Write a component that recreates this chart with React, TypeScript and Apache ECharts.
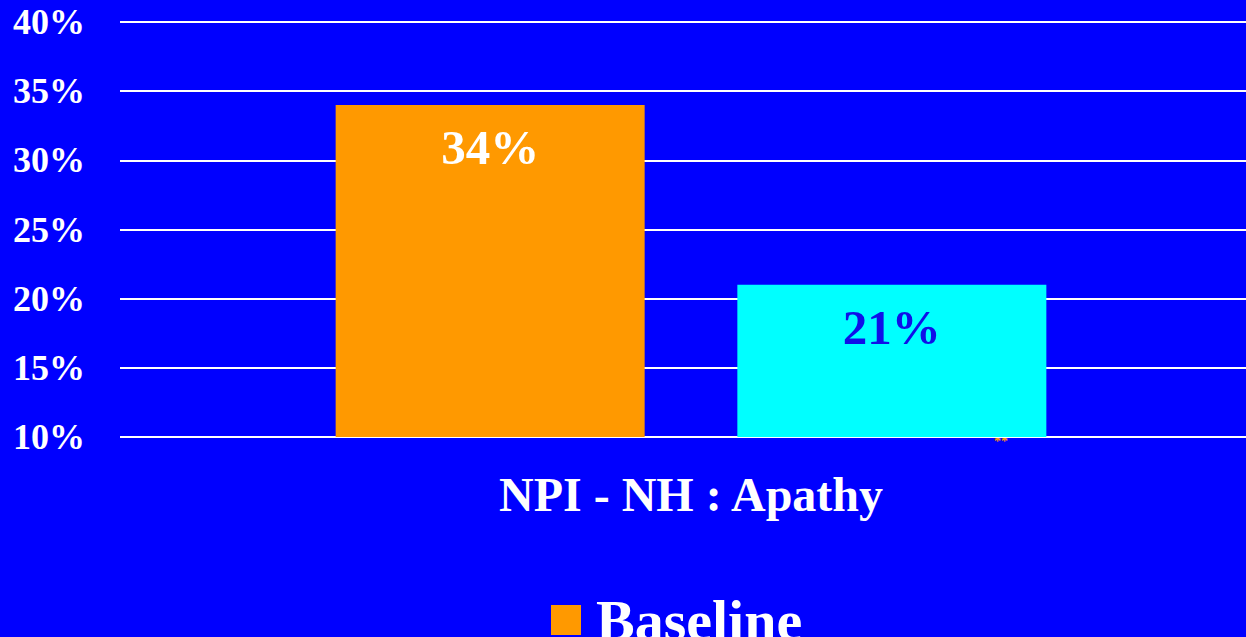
import React, { useEffect, useRef } from "react";
import * as echarts from "echarts";

const categories = ["NPI - NH : Apathy"];
const baselineValues = [34];
const followUpValues = [21];
const yTicks = [10, 15, 20, 25, 30, 35, 40];
const seriesNames = ["Baseline", "Follow-up"];
const significanceMark = "**";

export default function App() {
  const ref = useRef<HTMLDivElement>(null);
  useEffect(() => {
    if (!ref.current) return;
    const chart = echarts.init(ref.current, null, { renderer: "svg" });
    const font = "'Liberation Serif', 'Times New Roman', serif";
    chart.setOption({
      animation: false,
      backgroundColor: "#0000FF",
      grid: { left: 120, right: 0, top: 22, bottom: 200, containLabel: false },
      legend: {
        data: [seriesNames[0]],
        top: 586,
        left: 546,
        itemWidth: 30,
        itemHeight: 30,
        itemGap: 30,
        icon: "rect",
        textStyle: { color: "#FFFFFF", fontFamily: font, fontWeight: "bold", fontSize: 58, padding: [0, 0, 0, 10] },
      },
      xAxis: {
        type: "category",
        data: categories,
        axisLine: { show: false },
        axisTick: { show: false },
        axisLabel: { color: "#FFFFFF", fontFamily: font, fontWeight: "bold", fontSize: 48, margin: 33 },
      },
      yAxis: {
        type: "value",
        min: yTicks[0],
        max: yTicks[yTicks.length - 1],
        interval: 5,
        axisLine: { show: false },
        axisTick: { show: false },
        splitLine: { lineStyle: { color: "#FFFFFF", width: 2 } },
        axisLabel: {
          color: "#FFFFFF",
          fontFamily: font,
          fontWeight: "bold",
          fontSize: 36,
          margin: 35,
          formatter: (v: number) => v + "%",
        },
      },
      series: [
        {
          name: seriesNames[0],
          type: "bar",
          data: baselineValues,
          barWidth: 309,
          barGap: "30%",
          itemStyle: { color: "#FF9900" },
          label: {
            show: true,
            position: "insideTop",
            distance: 18,
            formatter: "{c}%",
            color: "#FFFFFF",
            fontFamily: font,
            fontWeight: "bold",
            fontSize: 49,
          },
        },
        {
          name: seriesNames[1],
          type: "bar",
          data: followUpValues,
          barWidth: 309,
          barGap: "30%",
          itemStyle: { color: "#00FFFF" },
          label: {
            show: true,
            position: "insideTop",
            distance: 18,
            formatter: "{c}%",
            color: "#1010E8",
            fontFamily: font,
            fontWeight: "bold",
            fontSize: 49,
          },
        },
      ],
      graphic: [
        {
          type: "text",
          left: 994,
          top: 434,
          style: { text: significanceMark, fill: "#FF9900", font: "bold 14px 'Liberation Serif', serif" },
        },
      ],
    });
    return () => chart.dispose();
  }, []);
  return (
    <div style={{ position: "absolute", left: 0, top: 0, width: 1246, height: 637, overflow: "hidden" }}>
      <div ref={ref} style={{ position: "absolute", left: 0, top: 0, width: 1262, height: 637 }} />
    </div>
  );
}
